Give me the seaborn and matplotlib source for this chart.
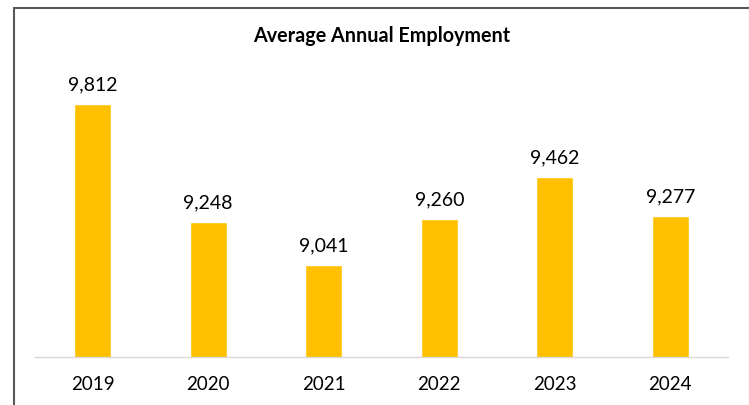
import matplotlib
matplotlib.use("Agg")
import matplotlib.pyplot as plt
from matplotlib.lines import Line2D
import seaborn as sns

years = ["2019", "2020", "2021", "2022", "2023", "2024"]
employment = [9812, 9248, 9041, 9260, 9462, 9277]
title_text = "Average Annual Employment"

sns.set_theme(style="white")
plt.rcParams["font.family"] = ["Lato", "DejaVu Sans"]

W, H = 749, 405
fig = plt.figure(figsize=(W / 100, H / 100), dpi=100)
ax = fig.add_axes([35 / W, (H - 356.7) / H, 693 / W, (356.7 - 64.8) / H])

sns.barplot(x=years, y=employment, color="#FFC000", width=0.32,
            saturation=1, ax=ax)
ax.set_ylim(8600, 10000)
ax.set_xlim(-0.5, len(years) - 0.5)
ax.set_xlabel("")
ax.set_ylabel("")
ax.set_yticks([])
for s in ["top", "right", "left"]:
    ax.spines[s].set_visible(False)
ax.spines["bottom"].set_color("#D9D9D9")
ax.spines["bottom"].set_linewidth(1.0)
ax.tick_params(axis="x", length=0, pad=14, labelsize=13.5, labelcolor="#000000")

for c in ax.containers:
    ax.bar_label(c, labels=[f"{v:,}" for v in employment], padding=7.5,
                 fontsize=14, color="#000000")

fig.text(381.5 / W, 1 - 35.5 / H, title_text, ha="center", va="center",
         fontsize=14.2, fontweight="bold", color="#000000")

# chart-area border
fig.add_artist(Line2D([14 / W, 14 / W], [0, 1 - 7.5 / H], color="#595959",
                      lw=1.5, transform=fig.transFigure))
fig.add_artist(Line2D([14 / W, 748.5 / W], [1 - 7.5 / H, 1 - 7.5 / H],
                      color="#595959", lw=1.5, transform=fig.transFigure))
fig.add_artist(Line2D([748.5 / W, 748.5 / W], [0, 1 - 7.5 / H],
                      color="#D9D9D9", lw=1.0, transform=fig.transFigure))

fig.savefig("out.png", dpi=100)
